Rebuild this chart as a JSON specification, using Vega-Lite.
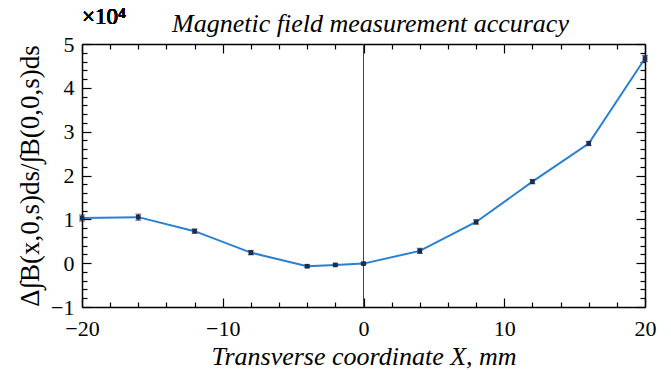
{
  "$schema": "https://vega.github.io/schema/vega-lite/v6.json",
  "width": 563,
  "height": 263,
  "autosize": {"type": "none"},
  "padding": {"left": 82, "top": 44, "right": 26, "bottom": 63},
  "background": "white",
  "title": {
    "text": "Magnetic field measurement accuracy",
    "font": "Liberation Serif",
    "fontStyle": "italic",
    "fontWeight": "normal",
    "fontSize": 26,
    "color": "black",
    "anchor": "middle",
    "frame": "group",
    "offset": 0,
    "dx": 7,
    "dy": 31
  },
  "config": {
    "view": {"stroke": null},
    "axis": {
      "labelFont": "Liberation Serif",
      "titleFont": "Liberation Serif",
      "labelFontSize": 22,
      "titleFontSize": 26,
      "labelColor": "black",
      "titleColor": "black",
      "domainColor": "black",
      "domainWidth": 1.5,
      "tickColor": "black",
      "tickWidth": 1.2,
      "grid": false,
      "labelFlush": false,
      "titleFontWeight": "normal"
    }
  },
  "data": {
    "values": [
      {"x": -20, "y": 1.03, "err": 0.07},
      {"x": -16, "y": 1.05, "err": 0.07},
      {"x": -12, "y": 0.73, "err": 0.05},
      {"x": -8, "y": 0.24, "err": 0.05},
      {"x": -4, "y": -0.07, "err": 0.03},
      {"x": -2, "y": -0.04, "err": 0.02},
      {"x": 0, "y": -0.01, "err": 0.02},
      {"x": 4, "y": 0.28, "err": 0.06},
      {"x": 8, "y": 0.94, "err": 0.05},
      {"x": 12, "y": 1.86, "err": 0.05},
      {"x": 16, "y": 2.73, "err": 0.05},
      {"x": 20, "y": 4.67, "err": 0.07}
    ]
  },
  "layer": [
    {
      "mark": {"type": "rule", "color": "#444444", "strokeWidth": 1},
      "encoding": {
        "x": {"datum": 0, "type": "quantitative", "scale": {"domain": [-20, 20], "nice": false, "zero": false, "padding": 0},
          "axis": {"orient": "top", "values": [-20,-18,-16,-14,-12,-10,-8,-6,-4,-2,0,2,4,6,8,10,12,14,16,18,20], "labels": false, "title": null,
            "tickSize": {"condition": {"test": "datum.value % 10 === 0", "value": -9}, "value": -5}}}
      }
    },
    {
      "mark": {"type": "line", "color": "#2b7fd0", "strokeWidth": 2},
      "encoding": {
        "x": {"field": "x", "type": "quantitative", "scale": {"domain": [-20, 20], "nice": false, "zero": false, "padding": 0},
          "axis": {"orient": "bottom", "values": [-20,-18,-16,-14,-12,-10,-8,-6,-4,-2,0,2,4,6,8,10,12,14,16,18,20],
            "labelExpr": "datum.value % 10 === 0 ? format(datum.value, 'd') : ''",
            "tickSize": {"condition": {"test": "datum.value % 10 === 0", "value": -9}, "value": -5},
            "labelPadding": 20,
            "title": "Transverse coordinate X, mm",
            "titleFontStyle": "italic",
            "titlePadding": 4}},
        "y": {"field": "y", "type": "quantitative", "scale": {"domain": [-1, 5], "nice": false, "zero": false, "padding": 0},
          "axis": {"orient": "left", "values": [-1,-0.8,-0.6,-0.4,-0.2,0,0.2,0.4,0.6,0.8,1,1.2,1.4,1.6,1.8,2,2.2,2.4,2.6,2.8,3,3.2,3.4,3.6,3.8,4,4.2,4.4,4.6,4.8,5],
            "labelExpr": "abs(datum.value - round(datum.value)) < 0.001 ? format(round(datum.value), 'd') : ''",
            "tickSize": {"condition": {"test": "abs(datum.value - round(datum.value)) < 0.001", "value": -9}, "value": -5},
            "labelPadding": 17,
            "title": "Δ∫B(x,0,s)ds/∫B(0,0,s)ds",
            "titleFontSize": 27,
            "titlePadding": 6}}
      }
    },
    {
      "mark": {"type": "errorbar", "ticks": {"size": 6, "color": "#1c2c4c"}, "rule": {"color": "#1c2c4c", "strokeWidth": 1.5}},
      "transform": [
        {"calculate": "datum.y - datum.err", "as": "lo"},
        {"calculate": "datum.y + datum.err", "as": "hi"}
      ],
      "encoding": {
        "x": {"field": "x", "type": "quantitative", "axis": null, "scale": {"domain": [-20, 20], "nice": false, "zero": false, "padding": 0}},
        "y": {"field": "lo", "type": "quantitative", "axis": null, "scale": {"domain": [-1, 5], "nice": false, "zero": false, "padding": 0}},
        "y2": {"field": "hi"}
      }
    },
    {
      "mark": {"type": "point", "shape": "square", "filled": true, "size": 22, "color": "#1c2c4c", "opacity": 1},
      "encoding": {
        "x": {"field": "x", "type": "quantitative", "axis": null},
        "y": {"field": "y", "type": "quantitative",
          "axis": {"orient": "right", "values": [-1,-0.8,-0.6,-0.4,-0.2,0,0.2,0.4,0.6,0.8,1,1.2,1.4,1.6,1.8,2,2.2,2.4,2.6,2.8,3,3.2,3.4,3.6,3.8,4,4.2,4.4,4.6,4.8,5], "labels": false, "title": null,
            "tickSize": {"condition": {"test": "abs(datum.value - round(datum.value)) < 0.001", "value": -9}, "value": -5}}}
      }
    },
    {
      "mark": {"type": "text", "text": "×10⁴", "font": "Liberation Serif", "fontSize": 23, "align": "left", "baseline": "alphabetic", "dx": 0, "dy": -20, "color": "black"},
      "encoding": {
        "x": {"datum": -20, "type": "quantitative", "axis": null},
        "y": {"datum": 5, "type": "quantitative", "axis": null}
      }
    }
  ],
  "resolve": {"axis": {"x": "independent", "y": "independent"}}
}
